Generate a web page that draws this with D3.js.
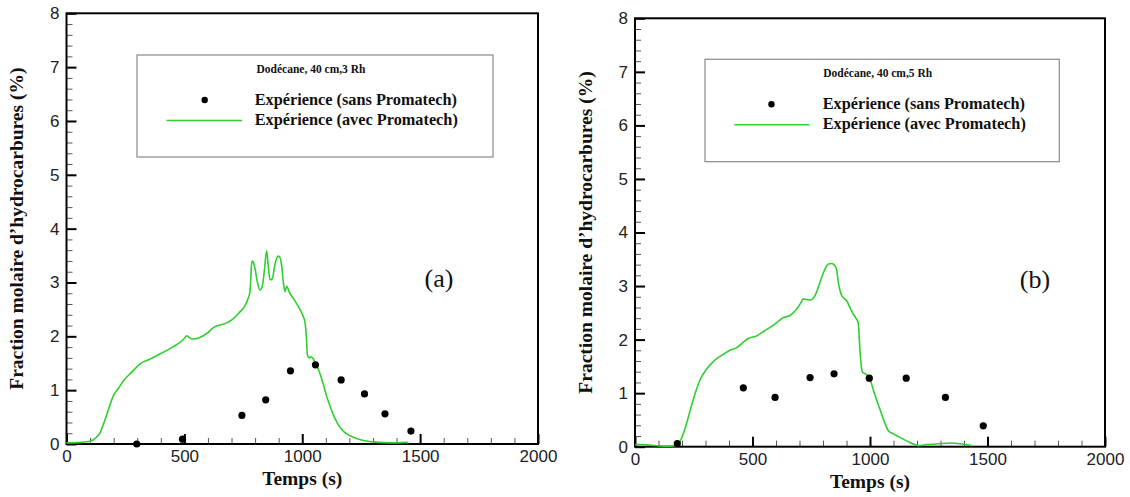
<!DOCTYPE html>
<html><head><meta charset="utf-8">
<script src="https://cdn.jsdelivr.net/npm/d3@7"></script>
<style>body{margin:0;background:#fff}svg{display:block}</style>
</head><body>
<svg id="c" width="1130" height="497"></svg>
<script>
// ---- data ----
const xTicks = [0, 500, 1000, 1500, 2000];
const yTicks = [0, 1, 2, 3, 4, 5, 6, 7, 8];
const xTitle = "Temps (s)";
const yTitle = "Fraction molaire d\u2019hydrocarbures (%)";
const seriesNames = ["Exp\u00e9rience (sans Promatech)", "Exp\u00e9rience (avec Promatech)"];
const titleA = "Dod\u00e9cane, 40 cm,3 Rh";
const titleB = "Dod\u00e9cane, 40 cm,5 Rh";

// panel (a)
const dotsA_t = [298, 492, 744, 845, 950, 1056, 1165, 1264, 1351, 1461];
const dotsA_v = [0.0, 0.09, 0.53, 0.82, 1.36, 1.47, 1.19, 0.93, 0.56, 0.24];
const curveA_t = [0, 60, 100, 128, 144, 156, 175, 199, 220, 241, 280, 312, 355, 400, 450, 496, 510, 520, 535, 560, 600, 623, 650, 680, 708, 735, 755, 770, 778, 782, 786, 792, 800, 810, 821, 830, 840, 849, 856, 863, 872, 885, 897, 905, 913, 920, 927, 934, 945, 969, 990, 1005, 1012, 1018, 1022, 1030, 1038, 1047, 1056, 1075, 1090, 1104, 1118, 1132, 1150, 1174, 1200, 1231, 1265, 1301, 1350, 1400, 1443, 1450];
const curveA_v = [0.02, 0.03, 0.05, 0.13, 0.22, 0.36, 0.6, 0.9, 1.03, 1.17, 1.35, 1.49, 1.58, 1.68, 1.80, 1.94, 2.01, 1.98, 1.95, 1.97, 2.07, 2.16, 2.21, 2.25, 2.33, 2.45, 2.55, 2.70, 2.82, 3.10, 3.40, 3.38, 3.25, 3.00, 2.86, 2.92, 3.25, 3.59, 3.30, 3.05, 3.06, 3.35, 3.49, 3.47, 3.30, 3.00, 2.83, 2.93, 2.82, 2.66, 2.50, 2.36, 2.25, 1.95, 1.65, 1.60, 1.62, 1.58, 1.50, 1.31, 1.10, 0.88, 0.70, 0.54, 0.38, 0.24, 0.16, 0.10, 0.06, 0.04, 0.025, 0.02, 0.03, 0.01];

// panel (b)
const dotsB_t = [180, 461, 596, 745, 847, 997, 1154, 1321, 1482];
const dotsB_v = [0.06, 1.10, 0.92, 1.29, 1.36, 1.28, 1.28, 0.92, 0.39];
const curveB_t = [0, 30, 64, 121, 177, 191, 202, 213, 227, 241, 260, 277, 300, 333, 370, 404, 433, 460, 482, 518, 550, 589, 615, 631, 660, 688, 705, 716, 730, 745, 766, 780, 795, 810, 823, 837, 850, 858, 866, 880, 901, 922, 940, 950, 954, 957, 962, 967, 986, 1000, 1020, 1043, 1060, 1078, 1100, 1129, 1170, 1206, 1240, 1283, 1344, 1390, 1433];
const curveB_v = [0.04, 0.04, 0.03, 0.01, 0.02, 0.09, 0.2, 0.34, 0.55, 0.78, 1.05, 1.25, 1.42, 1.59, 1.71, 1.80, 1.85, 1.95, 2.02, 2.07, 2.16, 2.27, 2.36, 2.41, 2.45, 2.57, 2.68, 2.76, 2.75, 2.74, 2.82, 2.98, 3.17, 3.33, 3.41, 3.42, 3.38, 3.30, 3.05, 2.82, 2.72, 2.53, 2.40, 2.31, 2.05, 1.81, 1.55, 1.40, 1.34, 1.25, 0.98, 0.69, 0.48, 0.30, 0.24, 0.17, 0.08, 0.02, 0.04, 0.05, 0.07, 0.05, 0.02];

// ---- drawing ----
const svg = d3.select("#c");
const GREEN = "#2fcf2f";
const SERIF = "'Liberation Serif','Times New Roman',serif";
const SANS = "'Liberation Sans',Arial,sans-serif";

function panel(cfg) {
  const x = d3.scaleLinear().domain([xTicks[0], xTicks[xTicks.length - 1]]).range([cfg.l, cfg.r]);
  const y = d3.scaleLinear().domain([yTicks[0], yTicks[yTicks.length - 1]]).range([cfg.b, cfg.t]);
  const g = svg.append("g");

  const xMinor = x.ticks(20).filter(v => !xTicks.includes(v));
  const yMinor = y.ticks(40).filter(v => !yTicks.includes(v));

  // minor ticks
  g.append("g").attr("transform", `translate(0,${cfg.b})`)
    .call(d3.axisBottom(x).tickValues(xMinor).tickSize(-6).tickFormat(""))
    .call(s => s.select(".domain").remove())
    .selectAll("line").attr("stroke", "#555").attr("stroke-width", 1);
  g.append("g").attr("transform", `translate(${cfg.l},0)`)
    .call(d3.axisLeft(y).tickValues(yMinor).tickSize(-6).tickFormat(""))
    .call(s => s.select(".domain").remove())
    .selectAll("line").attr("stroke", "#555").attr("stroke-width", 1);

  // major ticks + labels
  const ax = g.append("g").attr("transform", `translate(0,${cfg.b})`)
    .call(d3.axisBottom(x).tickValues(xTicks).tickSize(-10).tickPadding(6).tickFormat(d3.format("d")));
  ax.select(".domain").remove();
  ax.selectAll("line").attr("stroke", "#000").attr("stroke-width", 2);
  ax.selectAll("text").attr("font-family", SANS).attr("font-size", 17).attr("fill", "#222");

  const ay = g.append("g").attr("transform", `translate(${cfg.l},0)`)
    .call(d3.axisLeft(y).tickValues(yTicks).tickSize(-10).tickPadding(7).tickFormat(d3.format("d")));
  ay.select(".domain").remove();
  ay.selectAll("line").attr("stroke", "#000").attr("stroke-width", 2);
  ay.selectAll("text").attr("font-family", SANS).attr("font-size", 17).attr("fill", "#222");

  // frame
  g.append("rect").attr("x", cfg.l).attr("y", cfg.t)
    .attr("width", cfg.r - cfg.l).attr("height", cfg.b - cfg.t)
    .attr("fill", "none").attr("stroke", "#000").attr("stroke-width", 2);

  // curve
  const pts = cfg.ct.map((t, i) => [t, cfg.cv[i]]);
  g.append("path").datum(pts)
    .attr("d", d3.line().x(d => x(d[0])).y(d => y(d[1])).curve(d3.curveMonotoneX))
    .attr("fill", "none").attr("stroke", GREEN).attr("stroke-width", 1.6);

  // dots
  g.selectAll(".dot").data(cfg.dt.map((t, i) => [t, cfg.dv[i]])).enter()
    .append("circle").attr("cx", d => x(d[0])).attr("cy", d => y(d[1]))
    .attr("r", 3.6).attr("fill", "#000");

  // axis titles
  g.append("text").attr("x", (cfg.l + cfg.r) / 2).attr("y", cfg.b + 41)
    .attr("text-anchor", "middle").attr("font-family", SERIF).attr("font-weight", "bold")
    .attr("font-size", 19.5).attr("fill", "#111").text(xTitle);
  g.append("text").attr("transform", `translate(${cfg.l - 43.5},${(cfg.t + cfg.b) / 2}) rotate(-90)`)
    .attr("text-anchor", "middle").attr("font-family", SERIF).attr("font-weight", "bold")
    .attr("font-size", 19.5).attr("fill", "#111").text(yTitle);

  // panel label
  g.append("text").attr("x", cfg.labX).attr("y", cfg.labY).attr("text-anchor", "middle")
    .attr("font-family", SERIF).attr("font-size", 26).attr("fill", "#111").text(cfg.label);

  // legend
  const L = cfg.leg;
  g.append("rect").attr("x", L.x).attr("y", L.y).attr("width", L.w).attr("height", L.h)
    .attr("fill", "#fff").attr("stroke", "#8a8a8a").attr("stroke-width", 1.2);
  g.append("text").attr("x", L.x + L.titleDx).attr("y", L.y + 17.5).attr("text-anchor", "middle")
    .attr("font-family", SERIF).attr("font-weight", "bold").attr("font-size", 11.5)
    .attr("fill", "#111").text(cfg.title);
  g.append("circle").attr("cx", L.x + L.symDx).attr("cy", L.y + 45).attr("r", 3.2).attr("fill", "#000");
  g.append("line").attr("x1", L.x + L.lineX1).attr("x2", L.x + L.lineX2)
    .attr("y1", L.y + 65.5).attr("y2", L.y + 65.5).attr("stroke", GREEN).attr("stroke-width", 1.6);
  [0, 1].forEach(i => {
    g.append("text").attr("x", L.x + L.textDx).attr("y", L.y + 50 + i * 19.5)
      .attr("font-family", SERIF).attr("font-weight", "bold").attr("font-size", 16.3)
      .attr("fill", "#111").text(seriesNames[i]);
  });
}

panel({
  l: 66.5, r: 538, t: 13.3, b: 444,
  ct: curveA_t, cv: curveA_v, dt: dotsA_t, dv: dotsA_v,
  label: "(a)", labX: 439, labY: 287, title: titleA,
  leg: { x: 137, y: 55, w: 356, h: 102, titleDx: 174, symDx: 67.7, lineX1: 29.5, lineX2: 105, textDx: 117.7 }
});
panel({
  l: 635, r: 1105, t: 18.3, b: 446.7,
  ct: curveB_t, cv: curveB_v, dt: dotsB_t, dv: dotsB_v,
  label: "(b)", labX: 1035, labY: 288, title: titleB,
  leg: { x: 705, y: 59.3, w: 354.3, h: 102.4, titleDx: 172.7, symDx: 66.5, lineX1: 29.3, lineX2: 104.4, textDx: 117.7 }
});
</script>
</body></html>
